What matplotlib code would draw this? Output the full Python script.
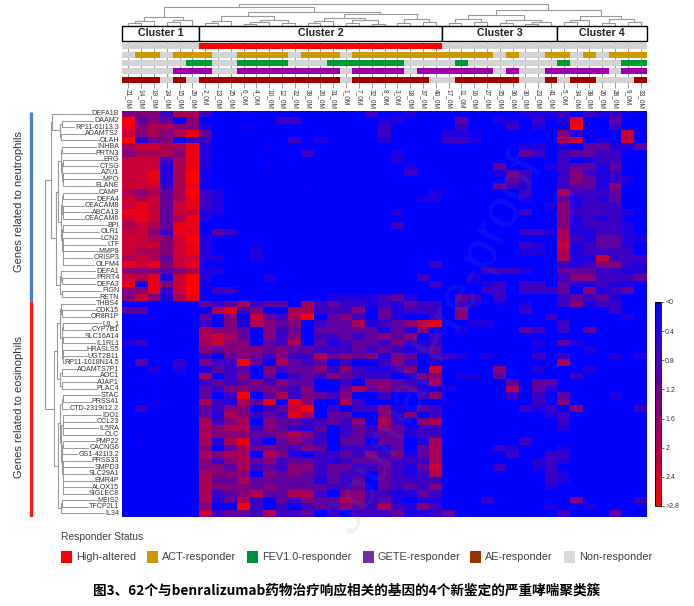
import matplotlib
matplotlib.use('Agg')
import matplotlib.pyplot as plt
from matplotlib.colors import LinearSegmentedColormap
from matplotlib.patches import Rectangle
from matplotlib.lines import Line2D
import numpy as np

plt.rcParams['font.family'] = ['Liberation Sans', 'DejaVu Sans']

W, H = 694, 606

# ---------------------------------------------------------------------------
# data
# ---------------------------------------------------------------------------
samples = ['21_0M', '14_0M', '19_0M', '24_0M', '15_0M', '29_0M',
           '2_0M', '13_0M', '25_0M', '6_0M', '4_0M', '10_0M', '12_0M', '22_0M',
           '39_0M', '20_0M', '31_0M', '1_0M', '7_0M', '32_0M', '8_0M', '3_0M',
           '18_0M', '37_0M', '40_0M',
           '17_0M', '11_0M', '16_0M', '27_0M', '35_0M', '36_0M', '30_0M',
           '23_0M', '41_0M',
           '5_0M', '34_0M', '38_0M', '26_0M', '28_0M', '9_0M', '33_0M']
clusters = ['Cluster 1', 'Cluster 2', 'Cluster 3', 'Cluster 4']
cluster_sizes = [6, 19, 9, 7]

genes_neu = ['DEFA1B', 'DAAM2', 'RP11-61I13.3', 'ADAMTS2', 'OLAH', 'INHBA',
             'PRTN3', 'ERG', 'CTSG', 'AZU1', 'MPO', 'ELANE', 'CAMP', 'DEFA4',
             'CEACAM8', 'ABCA13', 'CEACAM6', 'BPI', 'OLR1', 'LCN2', 'LTF',
             'MMP8', 'CRISP3', 'OLFM4', 'DEFA1', 'PRRT4', 'DEFA3', 'FIGN', 'RETN']
genes_eos = ['THBS4', 'CDK15', 'OR8R1P', 'U1_1', 'CYP7B1', 'SLC16A14', 'IL1RL1',
             'HRASLS5', 'UGT2B11', 'RP11-1018N14.5', 'ADAMTS7P1', 'AOC1', 'AJAP1',
             'PLAC4', 'STAC', 'PRSS41', 'CTD-2319I12.2', 'IDO1', 'CCL23', 'IL5RA',
             'CLC', 'PMP22', 'CACNG6', 'GS1-421I3.2', 'PRSS33', 'SMPD3', 'SLC29A1',
             'EMR4P', 'ALOX15', 'SIGLEC8', 'MEIS2', 'TFCP2L1', 'IL34']

# expression, one shade code per cell (0 = <0 ... 9 = >2.8),
# groups separated by spaces = cluster 1 | 2 | 3 | 4
EXPR_MAX = 2.8
SHADE_VALUES = [0.0, 0.15, 0.35, 0.65, 1.05, 1.45, 1.85, 2.2, 2.55, 2.8]
expr_neu = [
    "555366 3000000000000301200 000000222 3032310",
    "945405 0000003300000022000 040022030 2800400",
    "856655 2001100000000030000 030003020 0900300",
    "756568 4000000000000030000 221000000 5210070",
    "924503 3000000302000020000 332000000 6702070",
    "677668 2000010000000000000 000000220 2044224",
    "566658 2000000030000002000 000000430 3443300",
    "777368 2000000000000002000 000000000 3023300",
    "777268 2000010000000000200 000040002 3442400",
    "778269 1000000000000000300 000024300 3532300",
    "778269 1000000000000000000 000004300 3542320",
    "777368 1000000010000000000 000043200 3442500",
    "656469 3200000000000000002 100000300 6333400",
    "767468 3200000000000000022 000000200 4232400",
    "787478 3200000000000000000 000000002 5233300",
    "887477 2200000000000002000 000000300 5333320",
    "787468 2000000000000000000 000000000 5232300",
    "676488 0000000000000003000 000000000 5233320",
    "775388 0430000000000000000 000000332 6223320",
    "776579 2100100000000000000 000000000 6324422",
    "777578 2000100000000000000 000000320 7234420",
    "766578 2000200000000000000 000000220 6233330",
    "676477 2200200000000000000 000000000 6227333",
    "878578 1000000000000000003 000000000 3235532",
    "555456 2200000000000000000 000333200 4443322",
    "768279 2000020000000000030 002000000 3553334",
    "818579 1000000000000000003 000230330 4223220",
    "558379 0330000000000000000 000330333 4052340",
    "575268 0000000000222234200 043030000 3434200",
]
expr_eos = [
    "000000 4346344063433232433 032010200 3523300",
    "440000 0683500663335042333 050000300 0000300",
    "001000 4050743690453042003 050000003 0000020",
    "000000 3052654503446234578 002200000 3000000",
    "000010 6554053404444424250 020000430 3040000",
    "000000 6764053503343454503 000000000 0000000",
    "230000 6755043604234435323 000000020 4200000",
    "000000 5455545443334343234 000000010 0020000",
    "000000 3045435336454525403 320200030 3000202",
    "040030 5339406434030035302 000000000 6000000",
    "002020 2434053445353223507 000050020 0020000",
    "000000 6035040343543330255 022040000 0300000",
    "010000 3434535440030554326 000004044 0000000",
    "000000 4355454350046454422 200006042 0000000",
    "000000 4039046354350030035 000003030 4000200",
    "001000 6326480850063000000 100000030 5000000",
    "030000 4355034790303352043 000000323 0500003",
    "000000 4265343860440052503 000000002 3000000",
    "000000 6356054433435063056 000000000 3000000",
    "000000 6566354324034354233 000000000 2000000",
    "000000 6555445653034344233 000000000 0000000",
    "010000 6268304543044044026 000000300 0000000",
    "000000 5046454354033324046 000032000 2000000",
    "000000 6566065203343535246 000003003 3000000",
    "000000 5356453443234443336 000000023 2000000",
    "000000 5546343553443343247 000030023 0000000",
    "000000 6555054543433043236 000000003 2000000",
    "000000 6446444442434043333 000000003 2000000",
    "000000 6555454444334043435 000000002 0000000",
    "000000 6345644663055332243 000000000 0000000",
    "000000 6246304354465342022 000300000 0500003",
    "000000 5009303034354363253 000000002 0020000",
    "000000 7344363340303334223 400000000 3000400",
]

# responder status per sample (1 = coloured, 0 = grey)
status_names = ['High-altered', 'ACT-responder', 'FEV1.0-responder',
                'GETE-responder', 'AE-responder']
status_high = "000000 1111111111111111111 000000000 0000000"
status_act  = "011011 1001111011101111111 111101001 1010111"
status_fev  = "000001 1001111000111111000 010000000 1000011"
status_gete = "000011 1001111111101111011 111101001 1111011"
status_ae   = "111010 1111111111101111110 011111001 0110001"

# dendrograms: (left, right, merge height), leaves = display index
tree_c1 = (((0, 1, 0.12), 2, 0.22), ((3, 4, 0.16), 5, 0.26), 0.42)
tree_c2 = ((((6, 7, 0.14), 8, 0.24), (((9, 10, 0.08), 11, 0.16), (12, 13, 0.12), 0.28), 0.46),
           ((((14, 15, 0.12), 16, 0.22), ((17, 18, 0.14), (19, 20, 0.1), 0.26), 0.38),
            ((21, 22, 0.12), (23, 24, 0.16), 0.3), 0.52), 0.62)
tree_c3 = (((25, 26, 0.14), (27, 28, 0.18), 0.3), ((29, 30, 0.12), ((31, 32, 0.08), 33, 0.18), 0.28), 0.48)
tree_c4 = (((34, 35, 0.16), 36, 0.28), ((37, 38, 0.14), (39, 40, 0.18), 0.3), 0.44)
col_tree = ((tree_c1, tree_c2, 0.85), (tree_c3, tree_c4, 0.72), 1.0)

tree_n1 = (0, ((1, 2, 0.12), (3, 4, 0.14), 0.22), 0.62)
tree_n2 = ((5, 6, 0.1), ((7, 8, 0.06), ((9, 10, 0.03), 11, 0.06), 0.1), 0.18)
tree_n3 = (((12, 13, 0.06), ((14, 15, 0.04), 16, 0.07), 0.12),
           ((17, 18, 0.06), ((19, 20, 0.04), ((21, 22, 0.03), 23, 0.05), 0.08), 0.11), 0.16)
tree_n4 = ((24, (25, 26, 0.1), 0.16), (27, 28, 0.12), 0.22)
tree_neu = (tree_n1, ((tree_n2, tree_n3, 0.3), tree_n4, 0.42), 0.72)
tree_e1 = ((29, (30, 31, 0.1), 0.16),
           ((32, 33, 0.06), ((34, 35, 0.05), ((36, 37, 0.04), 38, 0.07), 0.1), 0.13), 0.24)
tree_e2 = ((39, 40, 0.1), (41, 42, 0.1), 0.2)
tree_e3 = (((43, 44, 0.07), 45, 0.12),
           (((46, 47, 0.05), (48, 49, 0.05), 0.08),
            (((50, 51, 0.06), 52, 0.1), ((53, 54, 0.05), ((55, 56, 0.04), (57, 58, 0.04), 0.06), 0.08), 0.12),
            0.15), 0.22)
tree_e4 = ((59, 60, 0.1), 61, 0.16)
tree_eos = ((tree_e1, tree_e2, 0.4), (tree_e3, tree_e4, 0.34), 0.55)
row_tree = (tree_neu, tree_eos, 1.0)

# ---------------------------------------------------------------------------
# styles
# ---------------------------------------------------------------------------
BAR_COLORS = ['#FF0000', '#CC9900', '#009933', '#9900AA', '#A00000']
LEGEND_COLORS = ['#FF0000', '#CC9900', '#008F3C', '#7030A0', '#993300', '#D9D9D9']
GREY = '#D3D3D3'
TREE_COLOR = '#9A9A9A'
TEXT_COLOR = '#333333'


def _digits(s):
    return [int(ch) for ch in s.replace(' ', '')]


def _px_axes(fig, x0, y0, x1, y1):
    return fig.add_axes([x0 / W, 1 - y1 / H, (x1 - x0) / W, (y1 - y0) / H])


def _tree_segments(node):
    """return (leaf position, height, list of U-shaped segments)"""
    if isinstance(node, int):
        return node + 0.5, 0.0, []
    left, right, h = node
    pl, hl, sl = _tree_segments(left)
    pr, hr, sr = _tree_segments(right)
    seg = [(pl, hl), (pl, h), (pr, h), (pr, hr)]
    return (pl + pr) / 2, h, sl + sr + [seg]


genes = genes_neu + genes_eos
codes = np.array([_digits(r) for r in expr_neu + expr_eos])
if codes.shape != (len(genes), len(samples)):
    raise ValueError(f'bad matrix shape {codes.shape}')
matrix = np.asarray(SHADE_VALUES)[codes]
n_rows, n_cols = matrix.shape

fig = plt.figure(figsize=(W / 100, H / 100), dpi=100)
fig.patch.set_facecolor('white')

cmap = LinearSegmentedColormap.from_list('br', ['#0000FF', '#FF0000'])

# ---- heatmap ----
ax = _px_axes(fig, 122, 110.7, 647, 516.5)
mesh = ax.pcolormesh(np.arange(n_cols + 1), np.arange(n_rows + 1), matrix,
                     cmap=cmap, vmin=0, vmax=EXPR_MAX)
ax.set_xlim(0, n_cols)
ax.set_ylim(n_rows, 0)
ax.set_axis_off()

row_texts = []
for r, g in enumerate(genes):
    t = ax.text(-0.22, r + 0.5, g, ha='right', va='center', fontsize=5.1,
                color=TEXT_COLOR)
    row_texts.append(t)

# ---- row dendrogram ----
axr = _px_axes(fig, 45, 110.7, 64, 516.5)
for seg in _tree_segments(row_tree)[2]:
    xs = [p[1] for p in seg]
    ys = [p[0] for p in seg]
    axr.plot(xs, ys, color=TREE_COLOR, lw=0.8, solid_capstyle='butt')
axr.set_xlim(1.02, 0)
axr.set_ylim(n_rows, 0)
axr.set_axis_off()

# gene group bars + labels
n_neu = len(genes_neu)
axg = _px_axes(fig, 0, 110.7, 44, 516.5)
axg.set_xlim(0, 44)
axg.set_ylim(n_rows, 0)
axg.plot([30.5, 30.5], [0.2, n_neu], color='#4A7FD4', lw=2.4, solid_capstyle='butt')
axg.plot([30.5, 30.5], [n_neu, n_rows + 0.3], color='#FF1A1A', lw=2.4, solid_capstyle='butt')
axg.text(19, n_neu / 2 - 0.6, 'Genes related to neutrophils', rotation=90,
         ha='center', va='center', fontsize=8, color=TEXT_COLOR)
axg.text(19, n_neu + len(genes_eos) / 2 - 0.2, 'Genes related to eosinophils', rotation=90,
         ha='center', va='center', fontsize=8, color=TEXT_COLOR)
axg.set_axis_off()

# ---- column dendrogram ----
axc = _px_axes(fig, 122, 3, 647, 26)
for seg in _tree_segments(col_tree)[2]:
    axc.plot([p[0] for p in seg], [p[1] for p in seg], color=TREE_COLOR, lw=0.8,
             solid_capstyle='butt')
axc.set_xlim(0, n_cols)
axc.set_ylim(0, 1.03)
axc.set_axis_off()

# ---- cluster boxes ----
axb = _px_axes(fig, 122, 26, 647, 41)
axb.set_xlim(0, n_cols)
axb.set_ylim(0, 1)
start = 0
for name, size in zip(clusters, cluster_sizes):
    axb.add_patch(Rectangle((start, 0.02), size, 0.96, facecolor='white',
                            edgecolor='black', lw=1.0, clip_on=False))
    axb.text(start + size / 2, 0.5, name, ha='center', va='center',
             fontsize=7.7, fontweight='bold', color='#222222')
    start += size
axb.set_axis_off()

# ---- responder status bars ----
axa = _px_axes(fig, 122, 42, 647, 84)
axa.set_xlim(0, n_cols)
axa.set_ylim(5, 0)
centers = np.arange(n_cols) + 0.5
axa.vlines(centers, -0.15, 5.45, color='#8C8C8C', lw=0.6, zorder=0, clip_on=False)
status_rows = [status_high, status_act, status_fev, status_gete, status_ae]
for k, (row, col) in enumerate(zip(status_rows, BAR_COLORS)):
    flags = _digits(row)
    colors = [col if f else GREY for f in flags]
    axa.barh(np.full(n_cols, k + 0.5), np.ones(n_cols), left=np.arange(n_cols),
             height=0.72, color=colors, linewidth=0, zorder=2)
for c, s in enumerate(samples):
    axa.text(c + 0.5, 5.55, s, rotation=-90, ha='center', va='top',
             fontsize=4.7, color=TEXT_COLOR, clip_on=False)
axa.set_axis_off()

# ---- colorbar ----
cax = _px_axes(fig, 655, 302, 661, 506)
cb = fig.colorbar(mesh, cax=cax)
cax.invert_yaxis()
ticks = [0, 0.4, 0.8, 1.2, 1.6, 2.0, 2.4, 2.8]
cb.set_ticks(ticks)
cb.set_ticklabels(['<0', '0.4', '0.8', '1.2', '1.6', '2', '2.4', '>2.8'])
cax.tick_params(labelsize=5, length=2, width=0.5, pad=1, colors=TEXT_COLOR)
cb.outline.set_linewidth(0.6)

# ---- legend ----
fig.text(61 / W, 1 - 537 / H, 'Responder Status', fontsize=7.4, color='#404040',
         va='center', ha='left')
legend_labels = status_names + ['Non-responder']
legend_x = [61, 147, 247, 363, 470, 564]
for x, lab, col in zip(legend_x, legend_labels, LEGEND_COLORS):
    fig.patches.append(Rectangle((x / W, 1 - 563 / H), 11 / W, 12 / H,
                                 facecolor=col, edgecolor='none',
                                 transform=fig.transFigure, figure=fig))
    fig.text((x + 15) / W, 1 - 557 / H, lab, fontsize=7.8, color='#404040',
             va='center', ha='left')

fig.text(0.5, 1 - 591 / H,
         '图3、62个与benralizumab药物治疗响应相关的基因的4个新鉴定的严重哮喘聚类簇',
         ha='center', va='center', fontsize=9.8, fontweight='bold',
         family=['Noto Sans CJK SC', 'DejaVu Sans'], color='black')

# watermark
fig.text(437 / W, 1 - 345 / H, 'Journal Pre-proof', rotation=63, ha='center',
         va='center', fontsize=39, color='#808080', alpha=0.11, zorder=10)

# ---- leaf lines from row dendrogram to gene labels ----
fig.canvas.draw()
renderer = fig.canvas.get_renderer()
for r, t in enumerate(row_texts):
    bb = t.get_window_extent(renderer)
    y_disp = ax.transData.transform((0, r + 0.5))[1]
    fig.add_artist(Line2D([64 / W, (bb.x0 - 1) / W], [y_disp / H, y_disp / H],
                          transform=fig.transFigure, color=TREE_COLOR, lw=0.7))

fig.savefig('out.png', dpi=100, facecolor='white')
